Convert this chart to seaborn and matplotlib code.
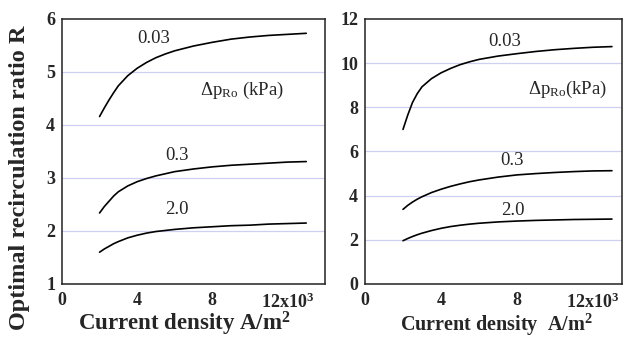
import numpy as np
import pandas as pd
import matplotlib
matplotlib.use("Agg")
import matplotlib.pyplot as plt
import seaborn as sns

# ---- data ----
current_density = [2, 2.25, 2.5, 2.75, 3, 3.5, 4, 4.5, 5, 5.5, 6, 7, 8, 9, 10, 11, 12, 13]  # x10^3 A/m^2

left_003 = [4.16, 4.32, 4.47, 4.61, 4.74, 4.93, 5.07, 5.18, 5.27, 5.34, 5.40, 5.49, 5.56, 5.62, 5.66, 5.69, 5.71, 5.73]
left_03 = [2.34, 2.46, 2.56, 2.66, 2.74, 2.85, 2.93, 2.99, 3.04, 3.08, 3.12, 3.17, 3.21, 3.24, 3.26, 3.28, 3.30, 3.31]
left_20 = [1.60, 1.66, 1.71, 1.76, 1.80, 1.87, 1.92, 1.96, 1.99, 2.01, 2.03, 2.06, 2.08, 2.10, 2.11, 2.13, 2.14, 2.15]

right_003 = [7.0, 7.65, 8.22, 8.62, 8.93, 9.30, 9.56, 9.76, 9.93, 10.06, 10.17, 10.32, 10.43, 10.53, 10.61, 10.67, 10.72, 10.75]
right_03 = [3.38, 3.56, 3.71, 3.84, 3.95, 4.14, 4.29, 4.42, 4.53, 4.63, 4.71, 4.84, 4.94, 5.00, 5.05, 5.09, 5.12, 5.13]
right_20 = [1.96, 2.06, 2.15, 2.23, 2.30, 2.42, 2.52, 2.60, 2.66, 2.71, 2.75, 2.81, 2.85, 2.88, 2.90, 2.92, 2.93, 2.94]

pressure_labels = ["0.03", "0.3", "2.0"]
x_tick_labels = ["0", "4", "8", r"12x10$^\mathbf{3}$"]
left_yticks = [1, 2, 3, 4, 5, 6]
right_yticks = [0, 2, 4, 6, 8, 10, 12]

sns.set_style("white")
plt.rcParams["font.family"] = ["Liberation Serif", "DejaVu Serif"]
plt.rcParams["mathtext.fontset"] = "custom"
plt.rcParams["mathtext.rm"] = "Liberation Serif"
plt.rcParams["mathtext.bf"] = "Liberation Serif:bold"
plt.rcParams["mathtext.it"] = "Liberation Serif:italic"

def make_df(series):
    rows = []
    for lab, vals in zip(pressure_labels, series):
        for x, y in zip(current_density, vals):
            rows.append({"x": x, "R": y, "dp": lab})
    return pd.DataFrame(rows)

df_left = make_df([left_003, left_03, left_20])
df_right = make_df([right_003, right_03, right_20])

fig = plt.figure(figsize=(6.23, 3.38), dpi=100)
ax1 = fig.add_axes([0.0995, 0.1598, 0.4222, 0.784])
ax2 = fig.add_axes([0.5859, 0.1598, 0.4125, 0.784])

grid_kw = dict(color="#cfcff2", linewidth=0.9, linestyle="-")

for ax, df, yticks, xmax in [
    (ax1, df_left, left_yticks, 14.0),
    (ax2, df_right, right_yticks, 13.53),
]:
    for yv in yticks[1:-1]:
        ax.axhline(yv, zorder=0, **grid_kw)
    sns.lineplot(data=df, x="x", y="R", hue="dp", units="dp", estimator=None,
                 palette=["black"] * 3, linewidth=1.2, legend=False, ax=ax, sort=True)
    ax.set_xlim(0, xmax)
    ax.set_ylim(yticks[0], yticks[-1])
    ax.set_yticks(yticks)
    ax.set_yticklabels([str(v) for v in yticks], fontsize=13, fontweight="bold")
    ax.set_xticks([0, 4, 8, 12])
    ax.set_xticklabels(x_tick_labels, fontsize=13, fontweight="bold")
    ax.set_xticks([2, 6, 10], minor=True)
    ax.tick_params(axis="x", which="major", direction="in", length=7, width=1.0, pad=6)
    ax.tick_params(axis="x", which="minor", direction="in", length=3.5, width=1.0)
    ax.tick_params(axis="y", which="both", length=0, pad=5)
    for s in ax.spines.values():
        s.set_linewidth(1.1)
        s.set_color("#222222")
    ax.set_ylabel("")
    ax.set_xlabel("")

W, H = 623.0, 338.0
fig.text(184 / W, 1 - 331 / H, r"Current density A/m$^\mathbf{2}$", fontsize=16.5, fontweight="bold",
         ha="center", va="baseline")
fig.text(496 / W, 1 - 331 / H, r"Current density  A/m$^\mathbf{2}$", fontsize=14.5, fontweight="bold",
         ha="center", va="baseline")
fig.text(20 / W, 1 - 178 / H, "Optimal recirculation ratio R", fontsize=17.5, fontweight="bold",
         rotation=90, ha="center", va="center")

ann = dict(fontsize=13.5, ha="center", va="center")
ax1.text(4.9, 5.64, "0.03", **ann)
ax1.text(6.1, 3.43, "0.3", **ann)
ax1.text(6.1, 2.40, "2.0", **ann)
ax1.text(9.6, 4.66, r"$\Delta$p$_\mathrm{Ro}$ (kPa)", **ann)

ax2.text(7.37, 10.96, "0.03", **ann)
ax2.text(7.76, 5.60, "0.3", **ann)
ax2.text(7.76, 3.35, "2.0", **ann)
ax2.text(10.66, 8.8, r"$\Delta$p$_\mathrm{Ro}$(kPa)", **ann)

fig.savefig("out.png", dpi=100)
